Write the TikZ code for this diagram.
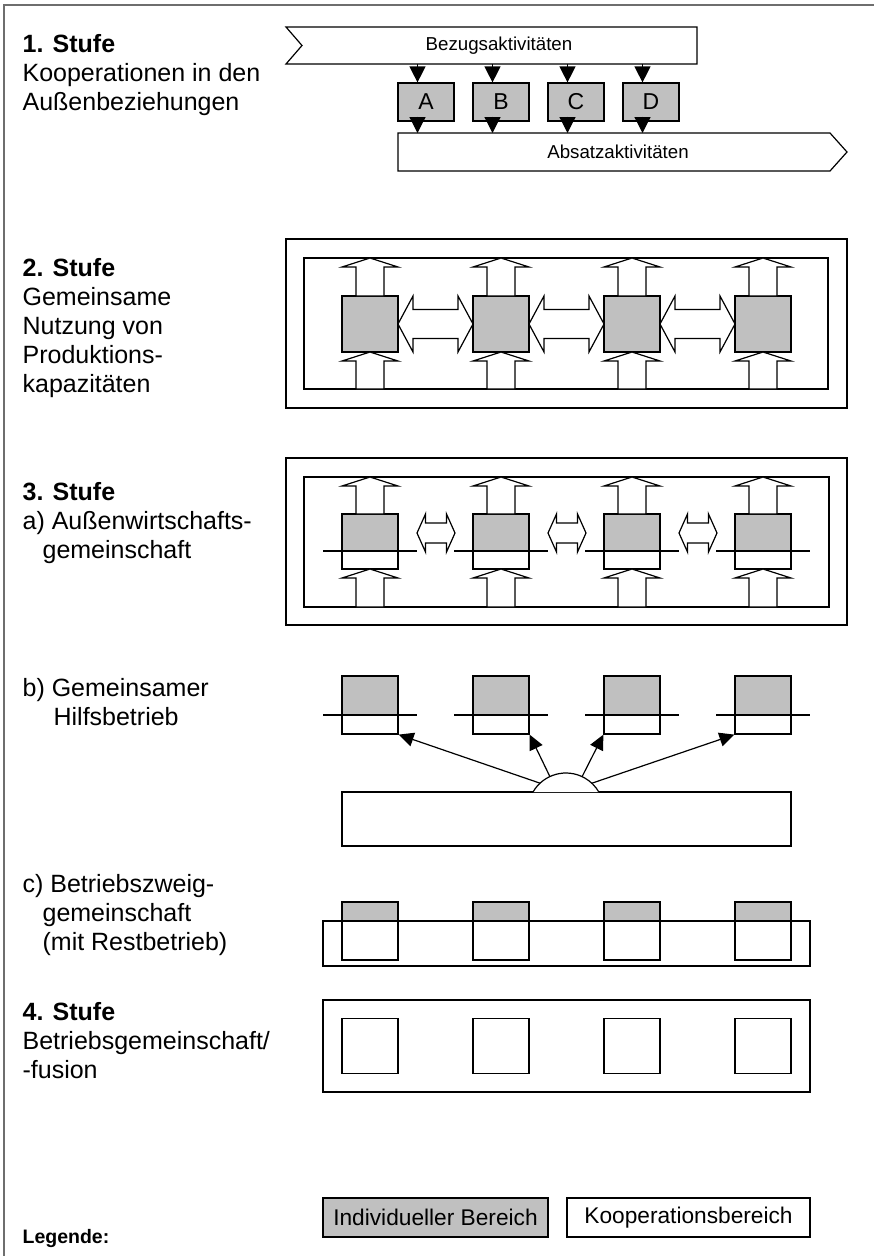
\documentclass[tikz,border=0pt]{standalone}
\usepackage{fontspec}
\setmainfont{Liberation Sans}
\usetikzlibrary{arrows.meta,calc}
\definecolor{boxgray}{RGB}{192,192,192}
\definecolor{framegray}{RGB}{110,110,110}
\newcommand\labfont{\fontsize{25}{29}\selectfont}
\newcommand\uparr[3]{\filldraw[fill=white] (#1-14,#2) -- (#1-14,#3+9) -- (#1-28,#3+9) -- (#1,#3) -- (#1+28,#3+9) -- (#1+14,#3+9) -- (#1+14,#2) -- cycle;}
\newcommand\dblarr[6]{\filldraw[fill=white] (#1,#3) -- (#1+#4,#3-#6) -- (#1+#4,#3-#5) -- (#2-#4,#3-#5) -- (#2-#4,#3-#6) -- (#2,#3) -- (#2-#4,#3+#6) -- (#2-#4,#3+#5) -- (#1+#4,#3+#5) -- (#1+#4,#3+#6) -- cycle;}
\begin{document}
\begin{tikzpicture}[x=1pt,y=-1pt,line width=1.2pt,
  lab/.style={anchor=base west,inner sep=0pt,font=\labfont},
  ind/.style={draw,fill=boxgray,inner sep=0pt},
  koop/.style={draw,fill=white,inner sep=0pt},
  frm/.style={draw,inner sep=0pt},
  bandtxt/.style={inner sep=0pt,font=\fontsize{18.7}{22}\selectfont},
  arr/.style={-{Triangle[length=16pt,width=16pt]}},
  arrb/.style={-{Triangle[length=15pt,width=14pt]}}]
\useasboundingbox (0,0) rectangle (874,1256);
\draw[framegray,line width=1.5pt] (4,1256) -- (4,5) -- (874,5);

% ---------- left labels
\node[lab,font=\labfont\bfseries] (t1) at (22,52) {1. Stufe};
\node[lab] (t1a) at (22,81) {Kooperationen in den};
\node[lab] (t1b) at (22,110) {Außenbeziehungen};

\node[lab,font=\labfont\bfseries] (t2) at (22,276) {2. Stufe};
\node[lab] (t2a) at (22,305) {Gemeinsame};
\node[lab] (t2b) at (22,334) {Nutzung von};
\node[lab] (t2c) at (22,363) {Produktions-};
\node[lab] (t2d) at (22,392) {kapazitäten};

\node[lab,font=\labfont\bfseries] (t3) at (22,500) {3. Stufe};
\node[lab] (t3a) at (22,529) {a) Außenwirtschafts-};
\node[lab] (t3b) at (42,558) {gemeinschaft};

\node[lab] (t3c) at (22,696) {b) Gemeinsamer};
\node[lab] (t3d) at (53,725) {Hilfsbetrieb};

\node[lab] (t3e) at (22,892) {c) Betriebszweig-};
\node[lab] (t3f) at (42,921) {gemeinschaft};
\node[lab] (t3g) at (42,950) {(mit Restbetrieb)};

\node[lab,font=\labfont\bfseries] (t4) at (22,1020) {4. Stufe};
\node[lab] (t4a) at (22,1049) {Betriebsgemeinschaft/};
\node[lab] (t4b) at (22,1078) {-fusion};

\node[lab,font=\fontsize{19.5}{23}\selectfont\bfseries] (leg) at (22,1243) {Legende:};

% ---------- Stage 1
\filldraw[fill=white] (286,27) -- (697,27) -- (697,64) -- (286,64) -- (302,45.5) -- cycle;
\node[bandtxt] (bez) at (499,45.5) {Bezugsaktivitäten};
\filldraw[fill=white] (398,133) -- (830,133) -- (847,152) -- (830,171) -- (398,171) -- cycle;
\node[bandtxt] (abs) at (618,152) {Absatzaktivitäten};
\coordinate (bezbot) at (0,64);
\coordinate (abstop) at (0,133);
\foreach \c/\n in {426/A,501/B,576/C,651/D}{
  \node[ind,minimum width=56pt,minimum height=38pt,font=\fontsize{23}{27}\selectfont] (\n) at (\c,102) {\n};
  \coordinate (\n in) at ($(\n.north)+(-8.5,0)$);
  \coordinate (\n out) at ($(\n.south)+(-8.5,-5)$);
  \draw[arr] (\n in |- bezbot) -- (\n in);
  \draw[arr] (\n out) -- (\n out |- abstop);
}

% ---------- Stage 2
\node[frm,minimum width=561pt,minimum height=169pt] (s2out) at (566.5,323.5) {};
\node[frm,minimum width=524pt,minimum height=131pt] (s2in) at (566,323.5) {};
\foreach \c/\n in {370/1,501/2,632/3,763/4}{
  \node[ind,minimum width=56pt,minimum height=56pt] (p\n) at (\c,324) {};
  \uparr{\c}{296}{258}
  \uparr{\c}{389}{352}
}
\dblarr{398}{473}{324}{15}{14.5}{28}
\dblarr{529}{604}{324}{15}{14.5}{28}
\dblarr{660}{735}{324}{15}{14.5}{28}

% ---------- Stage 3a
\node[frm,minimum width=561pt,minimum height=167pt] (s3out) at (566.5,541.5) {};
\node[frm,minimum width=525pt,minimum height=130pt] (s3in) at (566.5,542) {};
\foreach \c/\n in {370/1,501/2,632/3,763/4}{
  \fill[boxgray] (\c-28,514) rectangle (\c+28,551);
  \node[frm,minimum width=56pt,minimum height=55pt] (q\n) at (\c,541.5) {};
  \draw (\c-47,551) -- (\c+47,551);
  \uparr{\c}{514}{477}
  \uparr{\c}{607}{569}
}
\dblarr{417}{455}{533}{8.5}{10}{19}
\dblarr{548}{586}{533}{8.5}{10}{19}
\dblarr{679}{717}{533}{8.5}{10}{19}

% ---------- Stage 3b
\foreach \c/\n in {370/1,501/2,632/3,763/4}{
  \fill[boxgray] (\c-28,676) rectangle (\c+28,715);
  \node[frm,minimum width=56pt,minimum height=58pt] (b\n) at (\c,705) {};
  \draw (\c-47,715) -- (\c+47,715);
}
\node[frm,minimum width=449pt,minimum height=54pt] (hilf) at (566.5,819) {};
\coordinate (hub) at (566,811);
\draw[fill=white] (533,792) arc[start angle=210,end angle=330,radius=38];
\coordinate (h1) at (540.1,783.2);
\coordinate (h2) at (549.9,776.6);
\coordinate (h3) at (582.1,776.6);
\coordinate (h4) at (591.9,783.2);
\draw[arrb] (h1) -- (b1.south east);
\draw[arrb] (h2) -- (b2.south east);
\draw[arrb] (h3) -- (b3.south west);
\draw[arrb] (h4) -- (b4.south west);

% ---------- Stage 3c
\foreach \c/\n in {370/1,501/2,632/3,763/4}{
  \fill[boxgray] (\c-28,902) rectangle (\c+28,921);
  \node[frm,minimum width=56pt,minimum height=58pt] (c\n) at (\c,931) {};
}
\node[frm,minimum width=487pt,minimum height=45pt] (rest) at (566.5,943.5) {};

% ---------- Stage 4
\node[frm,minimum width=487pt,minimum height=92pt] (fus) at (566.5,1046) {};
\foreach \c/\n in {370/1,501/2,632/3,763/4}{
  \node[frm,minimum width=56pt,minimum height=55pt] (f\n) at (\c,1046) {};
}

% ---------- Legend
\node[ind,minimum width=225pt,minimum height=39pt,font=\fontsize{22.7}{26}\selectfont] (lind) at (435.5,1217.5) {Individueller Bereich};
\node[koop,minimum width=243pt,minimum height=39pt,font=\fontsize{22.7}{26}\selectfont] (lkoop) at (688.5,1217.5) {Kooperationsbereich};
\end{tikzpicture}
\end{document}
